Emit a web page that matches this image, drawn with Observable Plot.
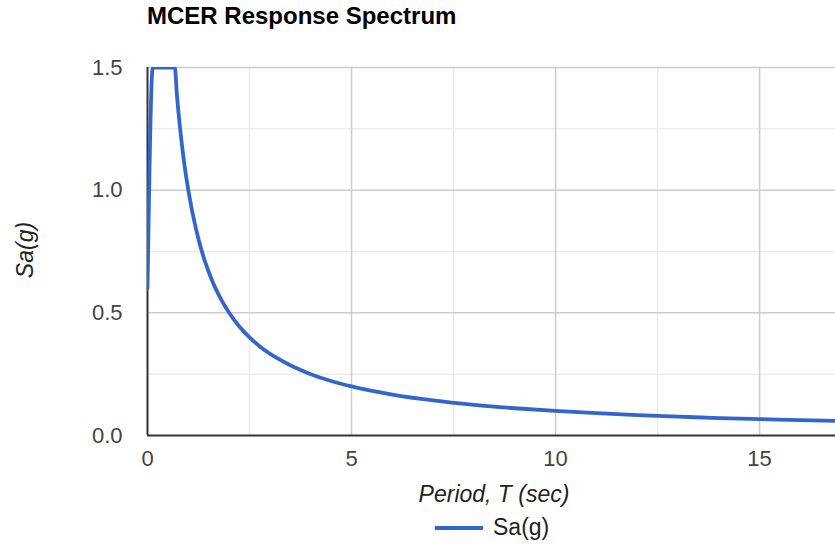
<!DOCTYPE html>
<html>
<head>
<meta charset="utf-8">
<script src="https://cdn.jsdelivr.net/npm/d3@7"></script>
<script src="https://cdn.jsdelivr.net/npm/@observablehq/plot@0.6"></script>
<style>
  html, body { margin: 0; padding: 0; background: #fff; }
  body { width: 835px; height: 546px; position: relative; overflow: hidden; font-family: Arial, "Liberation Sans", sans-serif; }
  #chart { position: absolute; left: 0; top: 0; }
  .lbl { position: absolute; white-space: nowrap; color: #222; }
  #title { left: 147px; top: 2px; font-size: 24px; font-weight: bold; color: #000; }
  #ylab { left: 25px; top: 250px; font-size: 23px; font-style: italic; transform: translate(-50%, -50%) rotate(-90deg); }
  #xlab { left: 494px; top: 481px; font-size: 23px; font-style: italic; transform: translateX(-50%); }
  #legend { left: 435px; top: 514px; font-size: 23px; display: flex; align-items: center; }
  #legend .sw { width: 48px; height: 4px; background: #3366cc; margin-right: 10px; }
</style>
</head>
<body>
<div id="chart"></div>
<div class="lbl" id="title">MCER Response Spectrum</div>
<div class="lbl" id="ylab">Sa(g)</div>
<div class="lbl" id="xlab">Period, T (sec)</div>
<div class="lbl" id="legend"><div class="sw"></div><span>Sa(g)</span></div>
<script>
// Values
const period = [0, 0.13, 0.67, 0.72, 0.8, 0.9, 1.0, 1.1, 1.25, 1.4, 1.6, 1.8, 2.0, 2.25, 2.5, 2.8, 3.2, 3.6, 4.0, 4.5, 5, 6, 7, 8, 9, 10, 11, 12, 13, 14, 15, 16, 17];
const sa     = [0.6, 1.5, 1.5, 1.39, 1.25, 1.11, 1.0, 0.91, 0.8, 0.714, 0.625, 0.556, 0.5, 0.444, 0.4, 0.357, 0.313, 0.278, 0.25, 0.222, 0.2, 0.167, 0.143, 0.125, 0.111, 0.1, 0.091, 0.083, 0.077, 0.071, 0.067, 0.0625, 0.059];
const xTicks = [0, 5, 10, 15];
const xMinor = [2.5, 7.5, 12.5];
const yTicks = [0, 0.5, 1.0, 1.5];
const yMinor = [0.25, 0.75, 1.25];
const seriesName = "Sa(g)";

const data = period.map((t, i) => ({T: t, Sa: sa[i]}));

const chart = Plot.plot({
  width: 835,
  height: 546,
  marginLeft: 147,
  marginRight: 0,
  marginTop: 67,
  marginBottom: 111,
  style: {fontFamily: 'Arial, "Liberation Sans", sans-serif', fontSize: "22px", background: "#fff", color: "#444"},
  x: {domain: [0, 16.86], ticks: xTicks, tickFormat: d => String(d), tickSize: 0, tickPadding: 15, label: null},
  y: {domain: [0, 1.5], ticks: yTicks, tickFormat: d => d.toFixed(1), tickSize: 0, tickPadding: 25, label: null},
  marks: [
    Plot.ruleX(xMinor, {stroke: "#ebebeb", strokeWidth: 1.5}),
    Plot.ruleY(yMinor, {stroke: "#ebebeb", strokeWidth: 1.5}),
    Plot.ruleX(xTicks.filter(d => d > 0), {stroke: "#cccccc", strokeWidth: 1.5}),
    Plot.ruleY(yTicks.filter(d => d > 0), {stroke: "#cccccc", strokeWidth: 1.5}),
    Plot.ruleX([0], {stroke: "#333", strokeWidth: 2}),
    Plot.ruleY([0], {stroke: "#333", strokeWidth: 2}),
    Plot.line(data, {x: "T", y: "Sa", stroke: "#3366cc", strokeWidth: 3.8, curve: "monotone-x", clip: true, title: () => seriesName})
  ]
});
document.getElementById("chart").appendChild(chart);
</script>
</body>
</html>
